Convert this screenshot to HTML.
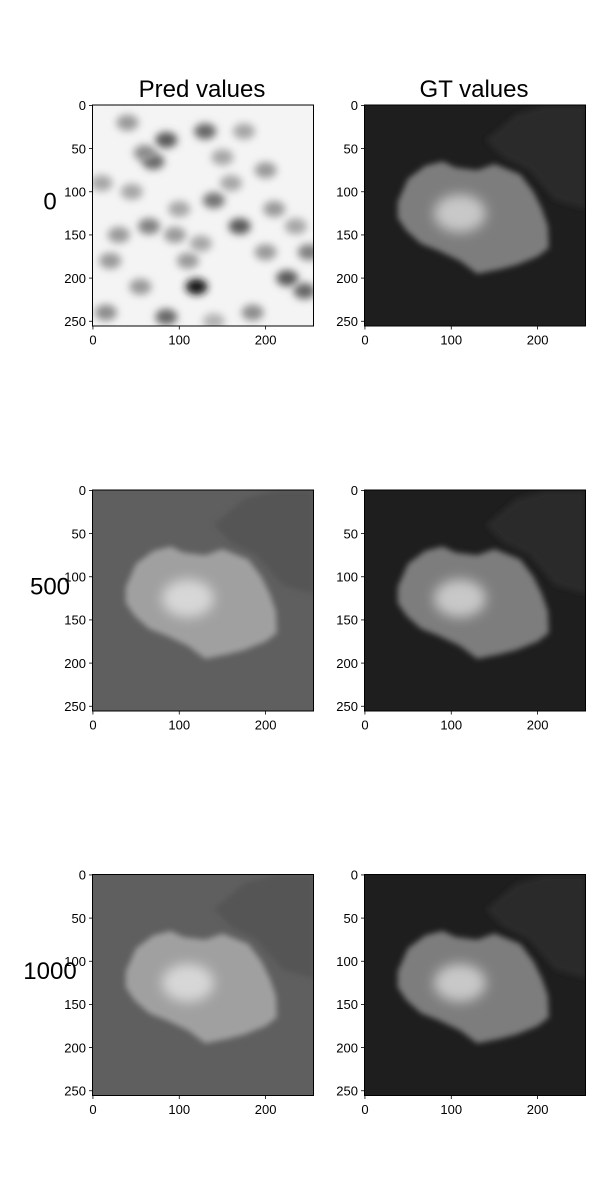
<!DOCTYPE html>
<html><head><meta charset="utf-8">
<style>
html,body{margin:0;padding:0;background:#fff;}
svg{display:block;font-family:"Liberation Sans","DejaVu Sans",sans-serif;}
</style></head>
<body>
<svg id="fig" width="600" height="1200" viewBox="0 0 600 1200" xmlns="http://www.w3.org/2000/svg">
<defs>
<filter id="blur3" x="-20%" y="-20%" width="140%" height="140%"><feGaussianBlur stdDeviation="3"/></filter>
<filter id="blur4" x="-80%" y="-80%" width="260%" height="260%"><feGaussianBlur stdDeviation="4"/></filter>
<filter id="blur6" x="-50%" y="-50%" width="200%" height="200%"><feGaussianBlur stdDeviation="6"/></filter>
</defs>
<text x="202" y="97" font-size="24" text-anchor="middle">Pred values</text>
<text x="474" y="97" font-size="24" text-anchor="middle">GT values</text>
</svg>
<script>
const tickValues = [0, 50, 100, 150, 200, 250];
const xTickValues = [0, 100, 200];
const rowLabels = ["0", "500", "1000"];
const blobX = [130, 85, 70, 140, 170, 65, 120, 225, 245, 85, 15, 40, 250, 60, 200, 160, 110, 30, 185, 100, 20, 150, 210, 45, 95, 235, 175, 125, 55, 200, 10, 140];
const blobY = [30, 40, 65, 110, 140, 140, 210, 200, 215, 245, 240, 20, 170, 55, 75, 90, 180, 150, 240, 120, 180, 60, 120, 100, 150, 140, 30, 160, 210, 170, 90, 250];
const blobDark = [0.6, 0.65, 0.6, 0.55, 0.65, 0.5, 0.9, 0.65, 0.6, 0.6, 0.45, 0.4, 0.5, 0.45, 0.4, 0.35, 0.4, 0.4, 0.45, 0.35, 0.4, 0.35, 0.4, 0.35, 0.4, 0.35, 0.35, 0.35, 0.4, 0.4, 0.35, 0.3];
const mushX = [38, 50, 70, 90, 105, 130, 150, 180, 195, 205, 212, 213, 200, 175, 155, 130, 110, 85, 65, 48, 38];
const mushY = [112, 85, 70, 65, 72, 75, 68, 80, 100, 120, 140, 165, 175, 185, 190, 195, 180, 168, 160, 145, 130];
const rockX = [140, 175, 210, 256, 256, 220, 190, 160];
const rockY = [40, 10, 0, 0, 120, 110, 75, 60];

const NS = "http://www.w3.org/2000/svg";
const svg = document.getElementById("fig");
const AX_W = 221, AX_H = 221, EXT0 = -0.5, EXT1 = 255.5;
const colLeft = [92.5, 364.5];
const rowTop = [105, 490, 874.5];

function mk(tag, attrs, parent) {
  const e = document.createElementNS(NS, tag);
  for (const k in attrs) e.setAttribute(k, attrs[k]);
  (parent || svg).appendChild(e);
  return e;
}
function sx(v) { return (v - EXT0) / (EXT1 - EXT0) * AX_W; }
function sy(v) { return (v - EXT0) / (EXT1 - EXT0) * AX_H; }
function poly(xs, ys) { return xs.map((x, i) => sx(x).toFixed(1) + "," + sy(ys[i]).toFixed(1)).join(" "); }
function gray(v) { v = Math.round(v); return "rgb(" + v + "," + v + "," + v + ")"; }

function drawImage(g, kind) {
  if (kind === "noise") {
    const bg = mk("rect", {x: 0, y: 0, width: AX_W, height: AX_H, fill: "#f4f4f4"}, g);
    
    
    for (let i = 0; i < blobX.length; i++) {
      const c = mk("ellipse", {cx: sx(blobX[i]), cy: sy(blobY[i]), rx: 11, ry: 8, fill: gray(255 * (1 - blobDark[i])), filter: "url(#blur4)"}, g);
      
      
    }
    return;
  }
  const pred = kind === "pred";
  const bgc = pred ? 95 : 30, rockc = pred ? 85 : 42, mushc = pred ? 160 : 125, corec = pred ? 215 : 200;
  const bg = mk("rect", {x: 0, y: 0, width: AX_W, height: AX_H, fill: gray(bgc)}, g);
  
  
  const rock = mk("polygon", {points: poly(rockX, rockY), fill: gray(rockc), filter: "url(#blur3)"}, g);
  
  
  const m = mk("polygon", {points: poly(mushX, mushY), fill: gray(mushc), filter: "url(#blur3)"}, g);
  
  
  const core = mk("ellipse", {cx: sx(110), cy: sy(125), rx: sx(30) - sx(0), ry: sy(22) - sy(0), fill: gray(corec), filter: "url(#blur6)"}, g);
  
  
}

for (let r = 0; r < 3; r++) {
  for (let c = 0; c < 2; c++) {
    const g = mk("g", {transform: "translate(" + colLeft[c] + "," + rowTop[r] + ")"});
    
    
    const kind = c === 1 ? "gt" : (r === 0 ? "noise" : "pred");
    const cp = mk("clipPath", {id: "cp" + r + c}, g);
    mk("rect", {x: 0, y: 0, width: AX_W, height: AX_H}, cp);
    const ig = mk("g", {"clip-path": "url(#cp" + r + c + ")"}, g);
    
    
    drawImage(ig, kind);
    const fr = mk("rect", {x: 0, y: 0, width: AX_W, height: AX_H, fill: "none", stroke: "#000", "stroke-width": 1}, g);
    
    
    tickValues.forEach(v => {
      const y = sy(v);
      mk("line", {x1: -3.5, y1: y, x2: 0, y2: y, stroke: "#000", "stroke-width": 0.8}, g);
      const t = mk("text", {x: -6.5, y: y + 4.7, "font-size": 13, "text-anchor": "end"}, g);
      t.textContent = v;
      
      
    });
    xTickValues.forEach(v => {
      const x = sx(v);
      mk("line", {x1: x, y1: AX_H, x2: x, y2: AX_H + 3.5, stroke: "#000", "stroke-width": 0.8}, g);
      const t = mk("text", {x: x, y: AX_H + 18.5, "font-size": 13, "text-anchor": "middle"}, g);
      t.textContent = v;
      
      
    });
  }
  const lbl = mk("text", {x: 50, y: rowTop[r] + AX_H / 2 - 6, "font-size": 24, "text-anchor": "middle"});
  lbl.textContent = rowLabels[r];
  
  
}
</script>
</body></html>
